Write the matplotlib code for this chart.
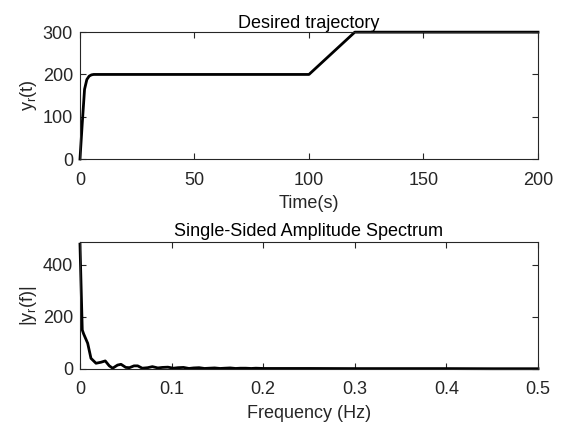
import matplotlib
matplotlib.use("Agg")
import matplotlib.pyplot as plt

plt.rcParams['font.family'] = ['Liberation Sans', 'DejaVu Sans']
plt.rcParams['mathtext.fontset'] = 'custom'
plt.rcParams['mathtext.rm'] = 'Liberation Sans'

# desired trajectory (time in s, value)
t = [0, 1, 2, 3, 4, 5, 6, 7, 100, 120, 200]
yr = [0, 85, 165, 188, 196, 199, 200, 200, 200, 300, 300]

# single-sided amplitude spectrum
freq = [0, 0.0025, 0.004, 0.0084, 0.012, 0.0175, 0.023, 0.0276, 0.032,
        0.0357, 0.041, 0.0448, 0.050, 0.054, 0.059, 0.063, 0.068, 0.074,
        0.079, 0.085, 0.090, 0.096, 0.102, 0.107, 0.113, 0.119, 0.124,
        0.130, 0.136, 0.141, 0.147, 0.153, 0.158, 0.164, 0.170, 0.175,
        0.181, 0.187, 0.192, 0.2, 0.25, 0.3, 0.35, 0.4, 0.45, 0.5]
amp = [480, 150, 135, 99, 41, 22, 26, 31, 12,
       3, 15, 18, 6, 5, 12, 12, 3, 5,
       9, 4, 6, 7, 3, 5, 6, 2, 4,
       5, 2, 3, 4, 2, 3, 4, 2, 3,
       3, 2, 3, 2, 2, 1.5, 1.5, 1.5, 1, 1]

fs = 13
dark = (0.15, 0.15, 0.15)
fig = plt.figure(figsize=(5.64, 4.23), dpi=100)
ax1 = fig.add_axes([0.1418, 0.624, 0.8121, 0.300])
ax2 = fig.add_axes([0.1418, 0.1277, 0.8121, 0.300])

ax1.plot(t, yr, color='k', linewidth=2, clip_on=False)
ax1.set_xlim(0, 200)
ax1.set_ylim(0, 300)
ax1.set_xticks([0, 50, 100, 150, 200])
ax1.set_yticks([0, 100, 200, 300])
ax1.set_title('Desired trajectory', fontsize=fs, color='k', pad=3)
ax1.set_xlabel('Time(s)', fontsize=fs, color=dark, labelpad=5)
ax1.set_ylabel(r'y$_\mathregular{r}$(t)', fontsize=fs, color=dark, labelpad=3)

ax2.plot(freq, amp, color='k', linewidth=2, clip_on=False)
ax2.set_xlim(0, 0.5)
ax2.set_ylim(0, 488)
ax2.set_xticks([0, 0.1, 0.2, 0.3, 0.4, 0.5])
ax2.set_xticklabels(['0', '0.1', '0.2', '0.3', '0.4', '0.5'])
ax2.set_yticks([0, 200, 400])
ax2.set_title('Single-Sided Amplitude Spectrum', fontsize=fs, color='k', pad=4.5)
ax2.set_xlabel('Frequency (Hz)', fontsize=fs, color=dark, labelpad=5)
ax2.set_ylabel(r'|y$_\mathregular{r}$(f)|', fontsize=fs, color=dark, labelpad=3)

for ax in (ax1, ax2):
    for s in ax.spines.values():
        s.set_color(dark)
        s.set_linewidth(0.8)
    ax.tick_params(direction='in', top=True, right=True, length=4, width=0.8,
                   color=dark, labelcolor=dark, labelsize=fs, pad=5)
    ax.tick_params(axis='x', pad=9)

plt.savefig('out.png', dpi=100)
